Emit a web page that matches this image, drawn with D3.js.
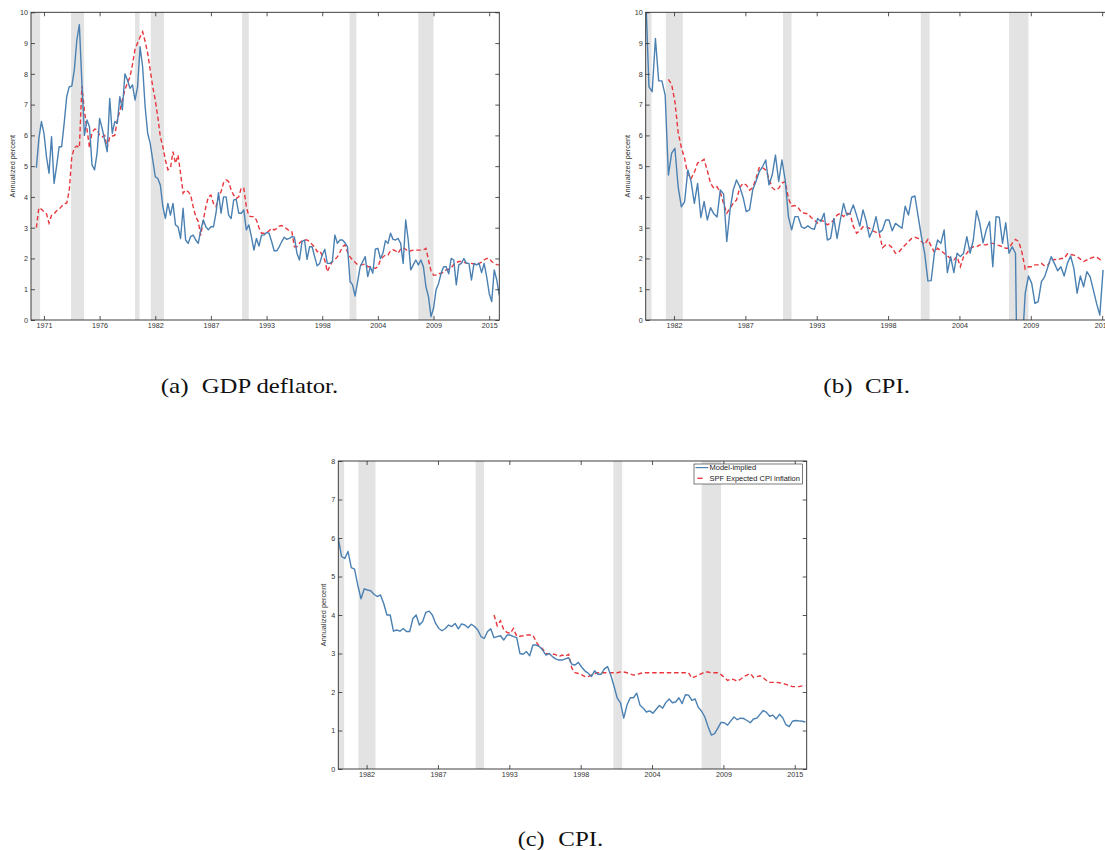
<!DOCTYPE html>
<html><head><meta charset="utf-8">
<script src="https://cdn.jsdelivr.net/npm/d3@7"></script>
<style>body{margin:0;background:#fff}svg{display:block}</style>
</head><body>
<svg id="chart" width="1105" height="850"></svg>
<script>
// ---------------- DATA ----------------
// Recession periods (shaded), decimal years
const recessions = [[1969.72,1970.62],[1973.68,1974.97],[1980.0,1980.45],[1981.55,1982.86],[1990.58,1991.24],[2001.2,2001.88],[2008.0,2009.5]];

// Panel (a): GDP deflator, quarterly from 1970.25
const gdpStart = 1970.25;
const gdpModel = [4.95,5.9,6.45,6.07,5.3,4.77,5.96,4.44,5.0,5.63,
5.63,6.4,7.26,7.58,7.6,8.13,9.1,9.6,7.7,6.0,
6.5,6.28,5.04,4.88,5.42,6.55,6.23,5.85,5.47,7.2,
6.07,6.45,6.39,7.26,6.83,8.0,7.8,7.53,7.64,7.15,
7.58,8.88,8.23,6.93,6.07,5.74,5.2,4.66,4.6,4.39,
3.68,3.3,3.79,3.41,3.79,3.09,3.03,2.65,3.63,2.6,
2.49,2.71,2.76,2.6,2.49,2.93,3.25,3.03,2.93,3.03,
3.03,3.47,4.14,3.47,4.0,4.0,3.41,3.3,3.9,3.92,
3.47,3.47,3.58,2.93,3.09,2.71,
2.27,2.65,2.4,2.76,2.76,2.84,2.82,2.55,2.25,2.25,
2.38,2.55,2.69,2.62,2.65,2.71,2.69,2.17,1.95,2.55,
2.6,1.97,2.38,2.38,2.06,1.76,1.84,2.11,2.3,1.84,
1.84,1.9,2.76,2.49,2.6,2.6,2.51,2.38,1.25,1.14,
0.78,1.25,1.73,1.9,2.06,1.41,1.73,1.52,2.3,2.33,
2.0,2.17,2.58,2.49,2.82,2.62,2.6,2.65,2.49,1.84,
3.25,2.6,1.63,1.79,1.95,1.79,1.95,1.73,1.08,0.76,
0.11,0.38,0.98,1.19,1.52,1.73,1.73,1.5,2.0,1.95,
1.14,1.79,1.84,2.0,1.84,1.84,1.3,1.84,1.79,1.84,
1.54,1.84,1.41,0.87,0.6,1.63,1.3,0.8];
const gdpSPF = [3.0,3.65,3.6,3.52,3.45,3.15,3.4,3.45,3.55,3.6,
3.7,3.78,3.8,4.2,5.3,5.6,5.65,5.6,7.6,6.8,
6.2,5.6,6.1,6.2,6.2,6.0,5.95,6.0,5.6,5.95,
5.98,6.0,6.5,6.8,7.15,7.48,7.7,7.9,8.3,8.8,
9.0,9.2,9.37,9.05,8.67,8.13,7.58,7.15,6.6,5.96,
5.63,5.2,4.88,4.93,5.47,5.09,5.36,4.77,4.12,4.22,
4.17,4.06,3.68,3.36,3.2,2.75,3.25,3.68,4.0,4.06,
3.79,3.68,4.0,4.17,4.46,4.55,4.5,4.22,4.06,3.95,
4.0,4.3,4.28,3.68,3.38,3.36,
3.36,3.25,3.0,2.82,2.82,2.84,2.9,2.98,2.93,2.97,
3.05,3.07,3.03,2.96,2.9,2.87,2.38,2.38,2.5,2.57,
2.6,2.6,2.55,2.45,2.38,2.22,2.25,2.1,1.95,1.57,
1.75,1.9,1.97,2.05,2.2,2.38,2.44,2.2,2.05,1.95,
1.88,1.8,1.79,1.8,1.82,1.73,1.73,1.7,1.68,1.73,
1.95,2.05,2.11,2.11,2.25,2.28,2.25,2.17,2.3,2.35,
2.3,2.22,2.25,2.27,2.27,2.27,2.27,2.28,2.33,1.95,
1.6,1.46,1.46,1.5,1.52,1.55,1.63,1.65,1.7,1.8,
1.87,1.9,1.9,1.88,1.84,1.84,1.84,1.82,1.79,1.84,
1.88,1.95,2.0,2.0,1.9,1.84,1.8,1.79];

// Panel (b): CPI, quarterly from 1980.0
const cpiStart = 1980.0;
const cpiModelB = [10.6,7.58,7.42,9.15,7.77,7.77,7.31,4.71,5.42,5.58,
4.33,3.68,3.85,4.88,4.5,3.79,4.44,3.33,3.85,3.25,
3.65,3.45,3.35,4.23,4.1,2.55,3.58,4.23,4.55,4.33,
4.0,3.52,3.58,4.23,4.5,4.82,4.98,5.2,4.39,4.71,
5.36,4.5,5.2,4.55,3.36,2.93,3.36,3.36,3.03,2.98,
3.06,2.98,2.95,3.3,3.2,3.47,2.6,2.65,3.3,2.65,
3.25,3.79,3.41,3.47,3.74,3.41,3.05,
3.58,3.2,2.69,2.93,3.36,2.84,2.93,3.25,3.25,2.9,
3.14,3.06,2.98,3.7,3.41,3.99,4.03,3.36,2.71,2.17,
1.27,1.28,2.17,2.6,2.49,2.93,1.54,2.06,1.54,2.17,
2.06,2.17,2.71,2.17,2.6,3.55,3.14,2.51,2.93,3.2,
1.73,3.36,3.34,2.49,3.16,2.17,2.38,2.17,-6,-1,
0.87,1.43,1.19,0.54,0.6,1.25,1.41,1.73,2.06,1.84,
1.6,1.73,1.43,1.84,2.08,1.68,0.87,1.43,1.08,1.57,
1.41,0.98,0.54,0.16,1.63];
const spfBStart = 1981.75;
const cpiSpfB = [7.82,7.65,7.1,6.1,5.6,5.25,4.7,4.6,4.8,5.1,
5.15,5.22,4.85,4.44,4.28,4.33,4.15,3.79,3.47,3.63,
3.79,3.9,4.3,4.44,4.39,4.22,4.3,4.6,4.95,4.95,
4.88,4.6,4.3,4.22,4.28,4.45,4.5,3.95,3.7,3.72,
3.65,3.5,3.47,3.45,3.33,3.25,3.15,3.25,3.2,3.09,
3.16,3.25,3.41,3.47,3.36,3.47,3.45,3.05,2.82,2.9,
3.03,3.03,2.98,2.9,2.85,2.82,2.35,2.44,2.44,2.35,
2.17,2.2,2.33,2.44,2.55,2.65,2.69,2.65,2.55,2.45,
2.62,2.4,2.2,2.33,2.25,2.17,2.08,2.0,1.95,2.06,
1.73,2.06,2.17,2.33,2.38,2.38,2.44,2.44,2.44,2.49,
2.49,2.46,2.42,2.38,2.33,2.33,2.5,2.62,2.55,2.2,
1.65,1.73,1.73,1.79,1.79,1.84,1.75,1.79,1.95,1.97,
1.95,2.0,2.0,2.15,2.13,2.11,2.06,1.98,1.9,1.95,
2.0,2.04,2.04,1.97,1.92];

// Panel (c): CPI, quarterly from 1980.0
const cpiModelC = [5.99,5.52,5.47,5.65,5.23,5.19,4.78,4.42,4.68,4.65,
4.63,4.54,4.48,4.52,4.3,4.0,4.0,3.58,3.61,3.58,
3.65,3.57,3.57,3.91,4.0,3.74,3.83,4.07,4.1,4.0,
3.78,3.65,3.59,3.65,3.74,3.7,3.78,3.64,3.77,3.74,
3.67,3.76,3.7,3.61,3.44,3.39,3.57,3.64,3.41,3.44,
3.46,3.35,3.48,3.48,3.44,3.41,3.0,2.98,3.05,2.94,
3.22,3.22,3.18,3.09,2.96,3.0,2.92,2.86,2.83,2.83,
2.86,2.89,2.72,2.7,2.77,2.65,2.55,2.49,2.4,2.55,
2.46,2.46,2.6,2.66,2.44,2.15,1.84,1.72,1.32,1.66,
1.85,1.85,1.97,1.66,1.58,1.48,1.51,1.45,1.55,1.65,
1.58,1.73,1.82,1.72,1.74,1.85,1.7,1.93,1.92,1.78,
1.82,1.6,1.5,1.35,1.1,0.88,0.92,1.06,1.21,1.2,
1.14,1.25,1.35,1.28,1.32,1.31,1.26,1.2,1.3,1.32,
1.42,1.52,1.47,1.37,1.4,1.3,1.42,1.33,1.15,1.1,
1.24,1.26,1.25,1.24,1.22];
const spfCStart = 1992.0;
const cpiSpfC = [4.0,3.72,3.85,3.62,3.55,3.52,3.65,3.45,3.45,3.46,
3.48,3.48,3.48,3.3,3.18,3.12,3.0,2.99,2.99,2.97,
2.92,2.96,2.93,2.98,2.62,2.5,2.48,2.45,2.4,2.4,
2.44,2.48,2.5,2.5,2.5,2.5,2.5,2.5,2.5,2.52,
2.52,2.5,2.47,2.44,2.46,2.48,2.5,2.5,2.5,2.5,
2.5,2.5,2.5,2.5,2.5,2.5,2.5,2.5,2.5,2.5,
2.5,2.36,2.4,2.44,2.48,2.52,2.52,2.5,2.5,2.5,
2.45,2.38,2.3,2.34,2.32,2.28,2.33,2.4,2.44,2.48,
2.38,2.4,2.42,2.37,2.3,2.25,2.25,2.25,2.24,2.22,
2.2,2.17,2.14,2.14,2.14,2.16,2.16];

// Tick positions and labels
const ticksA = [1971,1976.5,1982,1987.5,1993,1998.5,2004,2009.5,2015];
const tickLabelsA = ["1971","1976","1982","1987","1993","1998","2004","2009","2015"];
const ticksBC = [1982.18,1987.68,1993.18,1998.68,2004.18,2009.68,2015.18];
const tickLabelsBC = ["1982","1987","1993","1998","2004","2009","2015"];
const yTicksAB = [0,1,2,3,4,5,6,7,8,9,10];
const yTicksC = [0,1,2,3,4,5,6,7,8];
const legendLabels = ["Model-implied","SPF Expected CPI inflation"];
const yLabel = "Annualized percent";
const captions = [["(a)","GDP deflator."],["(b)","CPI."],["(c)","CPI."]];

// ---------------- DRAW ----------------
const BLUE = "#4a80b2", RED = "#e8363c", SHADE = "#e3e3e3", AXIS = "#2b2b2b";
const svg = d3.select("#chart");
const toPts = (start, vals) => vals.map((v,i)=>({t:start+0.25*i, v}));

function panel(cfg){
  const x = d3.scaleLinear().domain(cfg.xDomain).range([cfg.left, cfg.left+cfg.width]);
  const y = d3.scaleLinear().domain([0, cfg.yMax]).range([cfg.top+cfg.height, cfg.top]);
  const bottom = cfg.top+cfg.height, right = cfg.left+cfg.width;
  const cid = "clip-"+cfg.id;
  svg.append("clipPath").attr("id",cid).append("rect")
    .attr("x",cfg.left).attr("y",cfg.top).attr("width",cfg.width).attr("height",cfg.height);
  const g = svg.append("g");
  const inner = g.append("g").attr("clip-path",`url(#${cid})`);
  inner.selectAll("rect.rec").data(recessions).join("rect").attr("class","rec")
    .attr("x",d=>x(d[0])).attr("width",d=>x(d[1])-x(d[0]))
    .attr("y",cfg.top).attr("height",cfg.height).attr("fill",SHADE);
  const line = d3.line().x(d=>x(d.t)).y(d=>y(d.v));
  inner.append("path").datum(toPts(cfg.redStart,cfg.red)).attr("d",line)
    .attr("fill","none").attr("stroke",RED).attr("stroke-width",1.4).attr("stroke-dasharray","4.5,2.8");
  inner.append("path").datum(toPts(cfg.blueStart,cfg.blue)).attr("d",line)
    .attr("fill","none").attr("stroke",BLUE).attr("stroke-width",1.4).attr("stroke-linejoin","round");

  const font = "'Liberation Sans', Arial, sans-serif";
  const styleAxis = sel => {
    sel.select(".domain").remove();
    sel.selectAll(".tick line").attr("stroke",AXIS).attr("stroke-width",0.8);
    sel.selectAll(".tick text").attr("fill","#333").style("font-family",font).style("font-size","7.2px");
  };
  g.append("g").attr("transform",`translate(0,${bottom})`)
    .call(d3.axisBottom(x).tickValues(cfg.xTicks).tickFormat((d,i)=>cfg.xLabels[i]).tickSizeInner(-4).tickSizeOuter(0).tickPadding(3))
    .call(styleAxis);
  g.append("g").attr("transform",`translate(0,${cfg.top})`)
    .call(d3.axisTop(x).tickValues(cfg.xTicks).tickFormat("").tickSizeInner(-4).tickSizeOuter(0))
    .call(styleAxis);
  g.append("g").attr("transform",`translate(${cfg.left},0)`)
    .call(d3.axisLeft(y).tickValues(cfg.yTicks).tickFormat(d3.format("d")).tickSizeInner(-4).tickSizeOuter(0).tickPadding(3))
    .call(styleAxis);
  g.append("g").attr("transform",`translate(${right},0)`)
    .call(d3.axisRight(y).tickValues(cfg.yTicks).tickFormat("").tickSizeInner(-4).tickSizeOuter(0))
    .call(styleAxis);
  g.append("rect").attr("x",cfg.left).attr("y",cfg.top).attr("width",cfg.width).attr("height",cfg.height)
    .attr("fill","none").attr("stroke",AXIS).attr("stroke-width",0.9);
  g.append("text").attr("transform",`translate(${cfg.ylabX},${cfg.top+cfg.height/2}) rotate(-90)`)
    .attr("text-anchor","middle").attr("dominant-baseline","central")
    .style("font-family",font).style("font-size","7.3px").attr("fill","#333").text(yLabel);
  return {x,y};
}

panel({id:"a", left:31, top:12.3, width:468.3, height:307.7, xDomain:[1969.72,2016.0], yMax:10,
  xTicks:ticksA, xLabels:tickLabelsA, yTicks:yTicksAB, ylabX:12.5,
  blueStart:gdpStart, blue:gdpModel, redStart:gdpStart, red:gdpSPF});
panel({id:"b", left:645.7, top:12.3, width:468.4, height:307.7, xDomain:[1980.0,2016.1], yMax:10,
  xTicks:ticksBC, xLabels:tickLabelsBC, yTicks:yTicksAB, ylabX:627,
  blueStart:cpiStart, blue:cpiModelB, redStart:spfBStart, red:cpiSpfB});
panel({id:"c", left:338.3, top:461, width:468.4, height:308, xDomain:[1980.0,2016.1], yMax:8,
  xTicks:ticksBC, xLabels:tickLabelsBC, yTicks:yTicksC, ylabX:323.5,
  blueStart:cpiStart, blue:cpiModelC, redStart:spfCStart, red:cpiSpfC});

// Legend for panel (c)
const lg = svg.append("g");
lg.append("rect").attr("x",694).attr("y",464).attr("width",108.5).attr("height",20)
  .attr("fill","#fff").attr("stroke","#222").attr("stroke-width",0.6);
lg.append("line").attr("x1",695.5).attr("x2",708.3).attr("y1",467.6).attr("y2",467.6)
  .attr("stroke",BLUE).attr("stroke-width",1.2);
lg.append("line").attr("x1",697.3).attr("x2",702.7).attr("y1",478.3).attr("y2",478.3)
  .attr("stroke",RED).attr("stroke-width",1.3);
lg.selectAll("text").data(legendLabels).join("text")
  .attr("x",709.5).attr("y",(d,i)=>467.8+i*10.6).attr("dominant-baseline","central")
  .style("font-family","'Liberation Sans', Arial, sans-serif").style("font-size","7.5px").attr("fill","#222")
  .text(d=>d);

// Captions (label x, text x, baseline, label width, text width)
const capPos = [[160.7,201.7,393,28,136.5],[823.3,865,393,29.3,45],[517.7,558.3,845.5,26.9,45]];
captions.forEach((c,i)=>{
  const [x1,x2,yb,w1,w2] = capPos[i];
  [[x1,c[0],w1],[x2,c[1],w2]].forEach(([xx,tt,ww])=>{
    svg.append("text").attr("x",xx).attr("y",yb)
      .attr("textLength",ww).attr("lengthAdjust","spacingAndGlyphs")
      .style("font-family","'Liberation Serif','Times New Roman',serif").style("font-size","22px")
      .attr("fill","#111").text(tt);
  });
});
</script>
</body></html>
